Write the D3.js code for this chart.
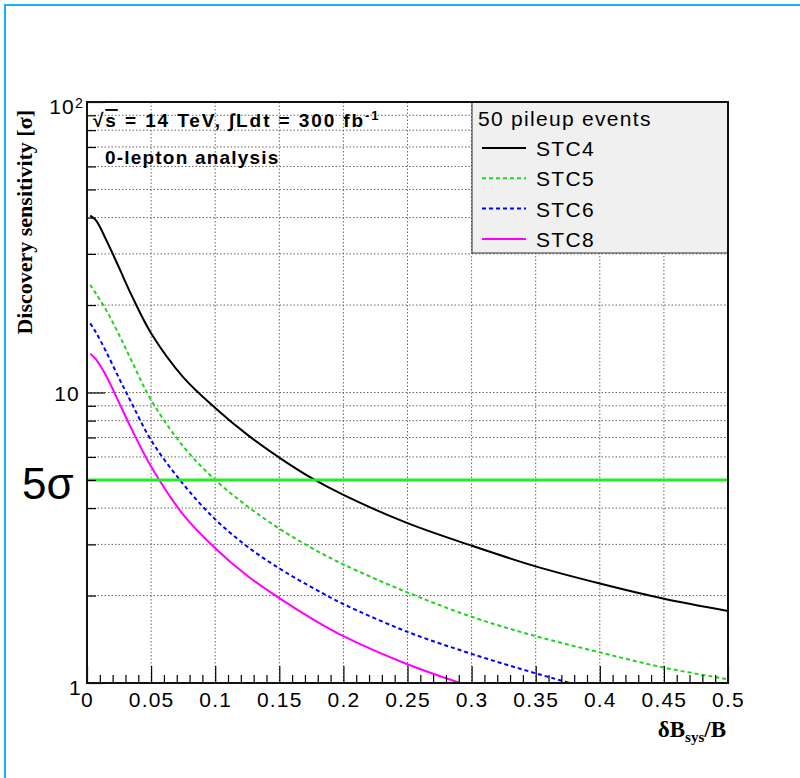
<!DOCTYPE html>
<html lang="en">
<head>
  <meta charset="UTF-8">
  <title>discovery-sensitivity</title>
  <script src="https://cdn.jsdelivr.net/npm/d3@7"></script>
  <style>
  body { margin: 0; background: #fff; }
  svg { display: block; }
  .sans { font-family: "Liberation Sans", Arial, Helvetica, sans-serif; }
  .serif { font-family: "Liberation Serif", "Times New Roman", serif; font-weight: bold; }
  .grid line { stroke: #666; stroke-width: 1; stroke-dasharray: 1.5, 2; }
  .axis path { display: none; }
  .axis line { stroke: #000; stroke-width: 1.2; }
  .axis text { font-family: "Liberation Sans", Arial, sans-serif; font-size: 21px; letter-spacing: 1.2px; fill: #000; }
  </style>
</head>
<body>
<script>
// values
let xValues = [0.0025, 0.007, 0.015, 0.025, 0.035, 0.05, 0.075, 0.1, 0.125, 0.15, 0.175, 0.2, 0.25, 0.3, 0.35, 0.4, 0.45, 0.5];
let stc4 = [40.6, 39.1, 33.5, 26.9, 21.5, 16.0, 11.3, 8.85, 7.16, 5.97, 5.08, 4.44, 3.55, 2.97, 2.52, 2.20, 1.95, 1.77];
let stc5 = [23.5, 21.9, 19.2, 15.8, 12.8, 9.42, 6.53, 5.0, 4.06, 3.40, 2.92, 2.56, 2.05, 1.69, 1.45, 1.275, 1.13, 1.03];
let stc6 = [17.3, 16.1, 13.8, 11.2, 9.16, 6.85, 4.84, 3.66, 2.95, 2.48, 2.14, 1.87, 1.50, 1.26, 1.08, 0.94, 0.84, 0.74];
let stc8 = [13.6, 13.0, 11.4, 9.23, 7.45, 5.56, 3.80, 2.91, 2.34, 1.96, 1.67, 1.45, 1.16, 0.97, 0.83, 0.72, 0.65, 0.58];

let seriesNames = ['STC4', 'STC5', 'STC6', 'STC8'];
let seriesColors = ['#000000', '#1fd31f', '#0000ff', '#ff00ff'];
let seriesDash = [null, '4,3', '4,3', null];
let seriesValues = [stc4, stc5, stc6, stc8];

let xMajorTicks = [0, 0.05, 0.1, 0.15, 0.2, 0.25, 0.3, 0.35, 0.4, 0.45, 0.5];
let xMinorTicks = d3.range(0, 51).map(d => d / 100).filter(d => Math.round(d * 100) % 5 !== 0);
let yDecadeTicks = [1, 10, 100];
let yMinorTicks = [2, 3, 4, 5, 6, 7, 8, 9, 20, 30, 40, 50, 60, 70, 80, 90];
let significance = 5;
let legendHeader = '50 pileup events';

let width = 800;
let height = 778;
let fLeft = 87, fRight = 728, fTop = 102, fBottom = 683;

let svg = d3.select('body').append('svg')
  .attr('width', width)
  .attr('height', height);

svg.append('rect').attr('width', width).attr('height', height).attr('fill', '#fff');
// canvas border
svg.append('rect')
  .attr('x', 5).attr('y', 5)
  .attr('width', 1000).attr('height', 1000)
  .attr('fill', 'none')
  .attr('stroke', '#14b4ee')
  .attr('stroke-width', 2);

let x = d3.scaleLinear().domain([0, 0.5]).range([fLeft, fRight]);
let y = d3.scaleLog().domain([1, 100]).range([fBottom, fTop]);

// grid
let grid = svg.append('g').attr('class', 'grid');
grid.selectAll('.gx')
  .data(xMajorTicks.slice(1, -1))
  .enter().append('line')
  .attr('x1', d => x(d)).attr('x2', d => x(d))
  .attr('y1', fTop).attr('y2', fBottom);
grid.selectAll('.gy')
  .data(yMinorTicks.concat([10]))
  .enter().append('line')
  .attr('x1', fLeft).attr('x2', fRight)
  .attr('y1', d => y(d)).attr('y2', d => y(d));

svg.append('clipPath').attr('id', 'frame')
  .append('rect')
  .attr('x', fLeft).attr('y', fTop)
  .attr('width', fRight - fLeft).attr('height', fBottom - fTop);

let line = d3.line()
  .x(d => x(d[0]))
  .y(d => y(d[1]))
  .curve(d3.curveCatmullRom.alpha(0.5));

let curves = svg.append('g').attr('clip-path', 'url(#frame)');
seriesValues.forEach(function (vals, i) {
  curves.append('path')
    .datum(xValues.map((xv, j) => [xv, vals[j]]))
    .attr('d', line)
    .attr('fill', 'none')
    .attr('stroke', seriesColors[i])
    .attr('stroke-width', 2)
    .attr('stroke-dasharray', seriesDash[i]);
});

// 5 sigma line
svg.append('line')
  .attr('x1', x(0)).attr('x2', x(0.5))
  .attr('y1', y(significance)).attr('y2', y(significance))
  .attr('stroke', '#22ee22')
  .attr('stroke-width', 3);
svg.append('text')
  .attr('class', 'sans')
  .attr('x', 22).attr('y', y(significance) + 19)
  .attr('font-size', 44)
  .text('5σ');

// legend
let lg = svg.append('g').attr('transform', 'translate(472,102)');
lg.append('rect')
  .attr('width', fRight - 472).attr('height', 151)
  .attr('fill', '#f0f0f0')
  .attr('stroke', '#333')
  .attr('stroke-width', 1);
lg.append('text')
  .attr('class', 'sans')
  .attr('x', 6).attr('y', 24)
  .attr('font-size', 21)
  .attr('letter-spacing', 1.3)
  .text(legendHeader);
seriesNames.forEach(function (name, i) {
  let cy = 46 + i * 30.3;
  lg.append('line')
    .attr('x1', 10).attr('x2', 54)
    .attr('y1', cy).attr('y2', cy)
    .attr('stroke', seriesColors[i])
    .attr('stroke-width', 2)
    .attr('stroke-dasharray', seriesDash[i]);
  lg.append('text')
    .attr('class', 'sans')
    .attr('x', 64).attr('y', cy + 8)
    .attr('font-size', 21)
    .attr('letter-spacing', 1.3)
    .text(name);
});

// axes
svg.append('g')
  .attr('class', 'axis')
  .attr('transform', 'translate(0,' + fBottom + ')')
  .call(d3.axisBottom(x).tickValues(xMinorTicks).tickSize(-8).tickFormat(''));
svg.append('g')
  .attr('class', 'axis')
  .attr('transform', 'translate(0,' + fBottom + ')')
  .call(d3.axisBottom(x).tickValues(xMajorTicks).tickSize(-17).tickPadding(9)
    .tickFormat(d => d === 0 ? '0' : String(d)));

svg.append('g')
  .attr('class', 'axis')
  .attr('transform', 'translate(' + fLeft + ',0)')
  .call(d3.axisLeft(y).tickValues(yMinorTicks).tickSize(-9).tickFormat(''));
let yAxis = svg.append('g')
  .attr('class', 'axis')
  .attr('transform', 'translate(' + fLeft + ',0)')
  .call(d3.axisLeft(y).tickValues(yDecadeTicks).tickSize(-18).tickPadding(7)
    .tickFormat(d => d === 100 ? '10' : String(d)));
yAxis.selectAll('text').attr('dy', '0.4em');
yAxis.selectAll('text').filter(d => d === 1).attr('x', -5).attr('dy', '0.55em');
yAxis.selectAll('text').filter(d => d === 100)
  .attr('dy', '0.55em')
  .attr('x', -3)
  .append('tspan')
  .attr('dy', '-0.45em')
  .attr('font-size', 14)
  .text('2');

// frame
svg.append('rect')
  .attr('x', fLeft).attr('y', fTop)
  .attr('width', fRight - fLeft).attr('height', fBottom - fTop)
  .attr('fill', 'none')
  .attr('stroke', '#111')
  .attr('stroke-width', 2);

// labels inside the frame
let info = svg.append('text')
  .attr('class', 'sans')
  .attr('x', 93).attr('y', 127)
  .attr('font-size', 19)
  .attr('letter-spacing', 1.9)
  .attr('font-weight', 'bold');
info.append('tspan').text('√');
info.append('tspan').attr('text-decoration', 'overline').text('s');
info.append('tspan').text(' = 14 TeV, ∫Ldt = 300 fb');
info.append('tspan').attr('dy', -7).attr('font-size', 13).text('-1');

svg.append('text')
  .attr('class', 'sans')
  .attr('x', 105).attr('y', 164)
  .attr('font-size', 19)
  .attr('letter-spacing', 1.2)
  .attr('font-weight', 'bold')
  .text('0-lepton analysis');

// axis titles
svg.append('text')
  .attr('class', 'serif')
  .attr('transform', 'translate(32,110) rotate(-90)')
  .attr('text-anchor', 'end')
  .attr('font-size', 22)
  .text('Discovery sensitivity [σ]');

let xt = svg.append('text')
  .attr('class', 'serif')
  .attr('x', 726).attr('y', 737)
  .attr('text-anchor', 'end')
  .attr('font-size', 23);
xt.append('tspan').text('δB');
xt.append('tspan').attr('dy', 5).attr('font-size', 15).text('sys');
xt.append('tspan').attr('dy', -5).text('/B');
</script>
</body>
</html>
